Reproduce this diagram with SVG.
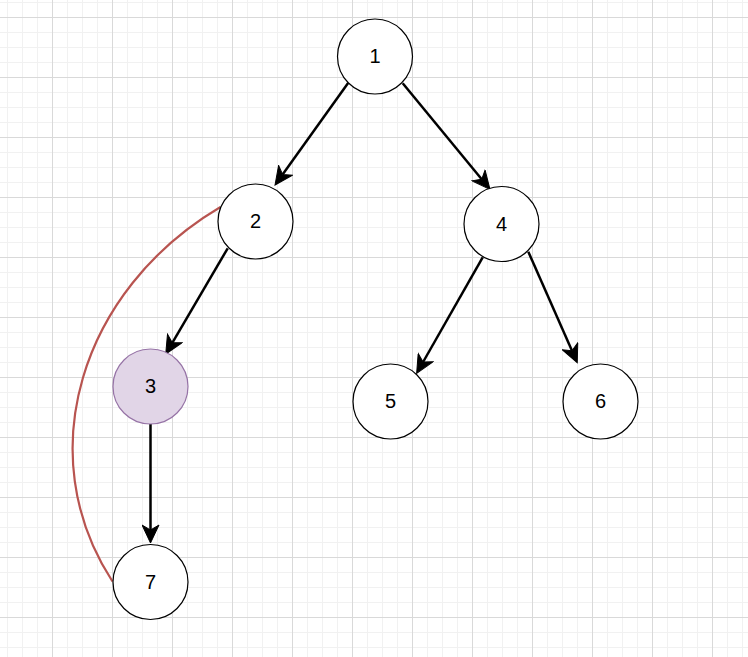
<svg xmlns="http://www.w3.org/2000/svg" width="748" height="657" viewBox="0 0 748 657">
  <style>
    .node circle { fill: #ffffff; stroke: #000000; stroke-width: 1.2; }
    .node.purple circle { fill: #e1d5e7; stroke: #9673a6; }
    .node text { font-family: "Liberation Sans", Arial, sans-serif; font-size: 20px; fill: #000000; text-anchor: middle; }
    .edge { fill: none; stroke: #000000; stroke-width: 2.5; marker-end: url(#arrow); }
    .link { fill: none; stroke: #b85450; stroke-width: 2.2; }
  </style>
  <defs>
    <pattern id="minor" x="7" y="2" width="15" height="15" patternUnits="userSpaceOnUse">
      <rect x="0" y="0" width="1" height="15" fill="#f1f1f1"/>
      <rect x="0" y="0" width="15" height="1" fill="#f1f1f1"/>
    </pattern>
    <pattern id="major" x="52" y="17" width="60" height="60" patternUnits="userSpaceOnUse">
      <rect x="0" y="0" width="1" height="60" fill="#d9d9d9"/>
      <rect x="0" y="0" width="60" height="1" fill="#d9d9d9"/>
    </pattern>
    <marker id="arrow" viewBox="-6 -9 20 18" refX="0" refY="0" markerWidth="20" markerHeight="18" markerUnits="userSpaceOnUse" orient="auto">
      <path d="M13,0 L-5,-8.5 L0,0 L-5,8.5 Z" fill="#000000" stroke="#000000" stroke-width="1" stroke-linejoin="miter"/>
    </marker>
  </defs>
  <rect x="0" y="0" width="748" height="657" fill="#ffffff"/>
  <rect x="0" y="0" width="748" height="657" fill="url(#minor)"/>
  <rect x="0" y="0" width="748" height="657" fill="url(#major)"/>

  <g id="connectors">
    <path class="edge" d="M348.3,82.7 L282.6,174.4"/>
    <path class="edge" d="M402.7,83.3 L481.7,179.3"/>
    <path class="edge" d="M227.7,248.3 L172.3,342.8"/>
    <path class="edge" d="M150.5,424 L150.5,530"/>
    <path class="edge" d="M482.7,257.3 L423.1,362"/>
    <path class="edge" d="M528.3,251.7 L572,350.8"/>
    <path class="link" d="M220.5,207 C80,290 30,455 112.5,581.5"/>
  </g>

  <g id="node1" class="node"><circle cx="375" cy="56.5" r="37.5"/><text x="375" y="63">1</text></g>
  <g id="node2" class="node"><circle cx="255.5" cy="221.5" r="37.5"/><text x="255.5" y="228">2</text></g>
  <g id="node3" class="node purple"><circle cx="150.5" cy="386.5" r="37.5"/><text x="150.5" y="393">3</text></g>
  <g id="node4" class="node"><circle cx="501.5" cy="224" r="37.5"/><text x="501.5" y="230.5">4</text></g>
  <g id="node5" class="node"><circle cx="390.5" cy="401.5" r="37.5"/><text x="390.5" y="408">5</text></g>
  <g id="node6" class="node"><circle cx="600.5" cy="401.5" r="37.5"/><text x="600.5" y="408">6</text></g>
  <g id="node7" class="node"><circle cx="150.5" cy="582" r="37.5"/><text x="150.5" y="588.5">7</text></g>
</svg>
